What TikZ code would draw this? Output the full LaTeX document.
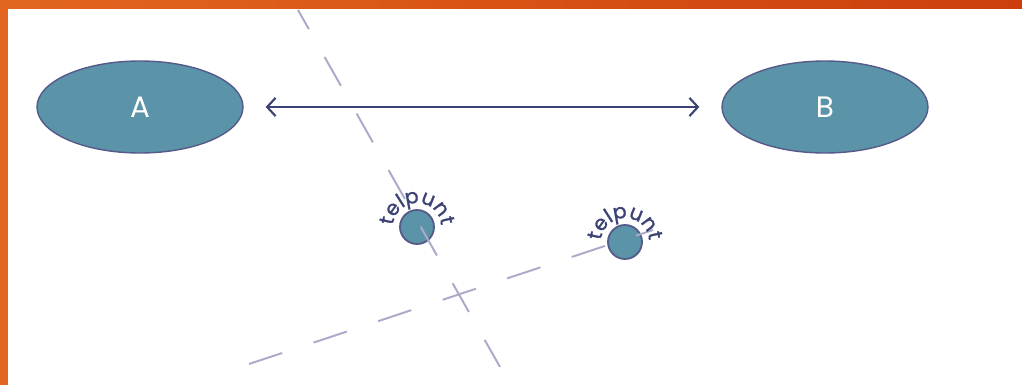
\documentclass[tikz,border=0pt]{standalone}
\usepackage{fontspec}
\setmainfont{Poppins}
\usetikzlibrary{arrows.meta,shapes.geometric,decorations.text}
\definecolor{orA}{HTML}{E2661F}
\definecolor{orB}{HTML}{CC3F0C}
\definecolor{fillc}{HTML}{5B93A8}
\definecolor{edgec}{HTML}{555A88}
\definecolor{navy}{HTML}{3C4275}
\definecolor{dashc}{HTML}{ABABC9}
\newfontfamily\telfont[FakeBold=1.2]{Poppins}
\tikzset{
  blob/.style={ellipse, fill=fillc, draw=edgec, line width=1pt, minimum width=5.15cm, minimum height=2.3cm, inner sep=0pt, text=white, font=\fontsize{21}{24}\selectfont},
  dot/.style={circle, fill=fillc, draw=edgec, line width=1.3pt, minimum size=0.85cm, inner sep=0pt},
  guide/.style={draw=dashc, line width=1.4pt},
  link/.style={draw=navy, line width=1.5pt, {Straight Barb[length=6pt,width=13pt]}-{Straight Barb[length=6pt,width=13pt]}, shorten <=0.55cm, shorten >=0.55cm},
  curvelabel/.style={decorate, decoration={text along path, text={|\telfont\fontsize{14.5}{16}\selectfont|telpunt}, text align=center, text color=navy}}
}
\begin{document}
\begin{tikzpicture}
\useasboundingbox (0,0) rectangle (25.55,9.6);
\shade[left color=orA, right color=orB] (0,0) rectangle (25.55,9.6);
\fill[white] (0.2,-0.2) rectangle (25.8,9.375);
% nodes
\node[blob] (A) at (3.5,6.925) {A};
\node[blob] (B) at (20.625,6.925) {B};
\node[dot] (c1) at (10.425,3.925) {};
\node[dot] (c2) at (15.625,3.55) {};
% guide lines
\coordinate (l1a) at (7.45,9.35);
\coordinate (l1b) at (12.5,0.425);
\coordinate (l2a) at (6.225,0.5);
\coordinate (l2b) at (16.325,3.85);
\draw[guide, dash pattern=on 0.825cm off 0.8cm, dash phase=0.275cm] (l1a) -- (l1b);
\draw[guide, dash pattern=on 0.875cm off 0.825cm] (l2a) -- (l2b);
% connector
\draw[link] (A) -- (B);
% curved labels
\path[curvelabel] (c1) ++(178:0.6) arc[start angle=178, end angle=2, radius=0.6];
\path[curvelabel] (c2) ++(178:0.6) arc[start angle=178, end angle=2, radius=0.6];
\end{tikzpicture}
\end{document}
